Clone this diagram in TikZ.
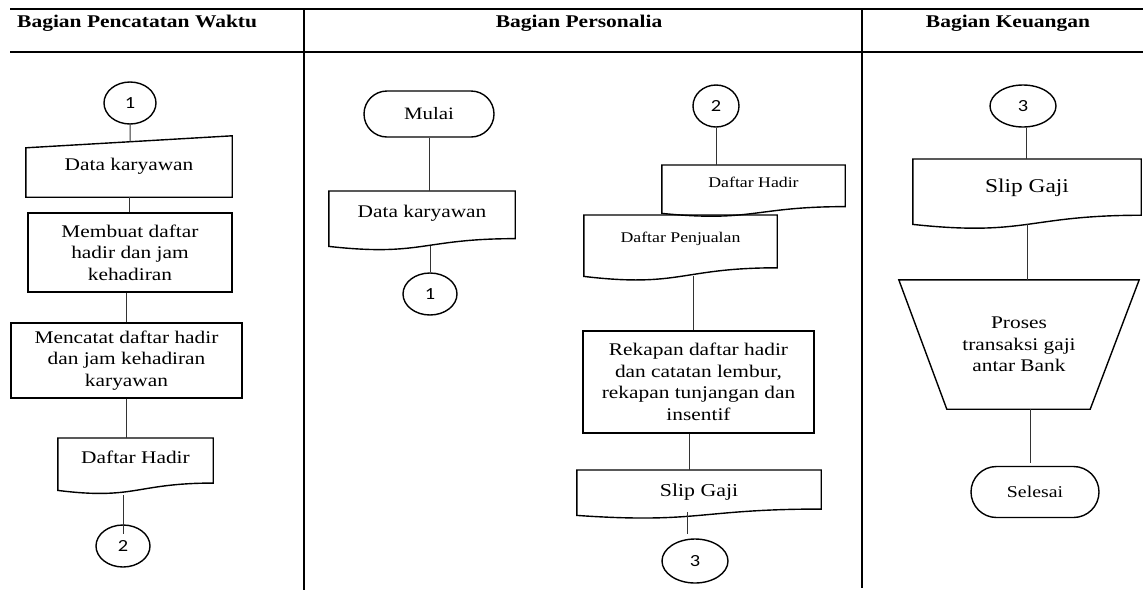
\documentclass[tikz,border=0pt]{standalone}
\usepackage{fontspec}
\setmainfont{Liberation Serif}[FakeStretch=1.2]
\newfontfamily\numfont{Carlito}[FakeStretch=1.2]
\usetikzlibrary{calc,shapes.geometric,shapes.misc}
\newcommand\mydocshape[1]{%
  \draw[shapeline] (#1.north west) -- (#1.north east) -- ($(#1.north east)!0.86!(#1.south east)$)
    .. controls ($(#1.north)!0.86!(#1.south)$) and ($(#1.north)!1.187!(#1.south)$) .. (#1.south west) -- cycle;}
\begin{document}
\begin{tikzpicture}[x=1pt,y=-1pt,
  shapeline/.style={draw=black,line width=1.4pt},
  conn/.style={draw=black!80,line width=1pt},
  tbl/.style={draw=black,line width=1.3pt},
  txt/.style={font=\fontsize{17.8}{21.5}\selectfont,align=center,inner sep=0pt},
  proc/.style={txt,shapeline,rectangle},
  docbox/.style={rectangle,inner sep=0pt,font=\fontsize{17.8}{21.5}\selectfont},
  smalldoc/.style={docbox,font=\fontsize{14.8}{18}\selectfont},
  conbox/.style={ellipse,shapeline,inner sep=0pt,font=\numfont\fontsize{17}{17}\selectfont},
  term/.style={rounded rectangle,shapeline,txt},
  hdr/.style={font=\bfseries\fontsize{17.9}{20}\selectfont,inner sep=0pt}
]
\useasboundingbox (0,0) rectangle (1143,590);

% table
\draw[tbl] (10,9) -- (1143,9);
\draw[tbl] (10,52) -- (1143,52);
\draw[tbl] (304,9) -- (304,590);
\draw[tbl] (862,9) -- (862,588);
\node[hdr,anchor=base west] (h1) at (17,27) {Bagian Pencatatan Waktu};
\node[hdr,anchor=base] (h2) at (579,27) {Bagian Personalia};
\node[hdr,anchor=base] (h3) at (1008,27) {Bagian Keuangan};

% ---- column 1
\node[conbox,minimum width=52pt,minimum height=42pt] (c1a) at (130,103) {1};
\node[docbox,minimum width=206pt,minimum height=61pt] (dk1) at (129,166.5) {Data karyawan};
\coordinate (dk1tl) at ($(dk1.north west)+(0,12)$);
\draw[shapeline] (dk1.south west) -- (dk1tl) -- (dk1.north east) -- (dk1.south east) -- cycle;
\node[proc,minimum width=204pt,minimum height=79pt] (p1) at (130,252.5) {Membuat daftar\\hadir dan jam\\kehadiran};
\node[proc,minimum width=231pt,minimum height=75pt] (p2) at (126.5,360.5) {Mencatat daftar hadir\\dan jam kehadiran\\karyawan};
\node[docbox,minimum width=155pt,text height=25pt,text depth=27pt,anchor=north] (dh1) at (135.5,438) {Daftar Hadir};
\mydocshape{dh1}
\node[conbox,minimum width=54pt,minimum height=42pt] (c2a) at (123,546) {2};

% ---- column 2
\node[term,minimum width=130pt,minimum height=46pt,font=\fontsize{17.4}{20}\selectfont] (mulai) at (429,114) {Mulai};
\node[docbox,minimum width=186pt,text height=26pt,text depth=29pt,anchor=north] (dk2) at (422,191) {Data karyawan};
\mydocshape{dk2}
\node[conbox,minimum width=54pt,minimum height=42pt] (c1b) at (430,294) {1};

\node[conbox,minimum width=46pt,minimum height=42pt] (c2b) at (716,106) {2};
\node[smalldoc,minimum width=183pt,text height=22pt,text depth=26pt,anchor=north] (dhP) at (753.5,165) {Daftar Hadir};
\mydocshape{dhP}
\node[smalldoc,minimum width=193pt,text height=27pt,text depth=34pt,anchor=north] (dpj) at (680.5,215) {Daftar Penjualan};
\mydocshape{dpj}
\node[proc,minimum width=231pt,minimum height=102pt] (rek) at (698.5,382) {Rekapan daftar hadir\\dan catatan lembur,\\rekapan tunjangan dan\\insentif};
\node[docbox,minimum width=244pt,text height=26pt,text depth=19pt,anchor=north,font=\fontsize{18.2}{20}\selectfont] (sgP) at (699,470) {Slip Gaji};
\mydocshape{sgP}
\node[conbox,minimum width=66pt,minimum height=44pt] (c3a) at (695,561) {3};

% ---- column 3
\node[conbox,minimum width=66pt,minimum height=42pt] (c3b) at (1023,106) {3};
\node[docbox,minimum width=228pt,text height=33.5pt,text depth=31.5pt,anchor=north,font=\fontsize{19.5}{22}\selectfont] (sgK) at (1027,159) {Slip Gaji};
\mydocshape{sgK}
\node[txt,minimum width=240pt,minimum height=129pt] (proses) at (1019,344.5) {Proses\\transaksi gaji\\antar Bank};
\draw[shapeline] (proses.north west) -- (proses.north east) -- ($(proses.south east)+(-49,0)$) -- ($(proses.south west)+(48,0)$) -- cycle;
\node[term,minimum width=128pt,minimum height=51pt,font=\fontsize{16.5}{19}\selectfont] (selesai) at (1035,492) {Selesai};

% ---- connectors
\draw[conn] (c1a.south) -- ($(dk1tl)!0.505!(dk1.north east)$);
\draw[conn] (dk1.south) -- (dk1.south |- p1.north);
\draw[conn] (p2.north |- p1.south) -- (p2.north);
\draw[conn] (p2.south) -- (p2.south |- dh1.north);
\draw[conn] ($(c2a.north |- dh1.south)+(0,5)$) -- ($(c2a.north)+(0,10)$);

\draw[conn] (mulai.south) -- (mulai.south |- dk2.north);
\draw[conn] (c1b.north |- dk2.south) -- (c1b.north);
\draw[conn] (c2b.south) -- (c2b.south |- dhP.north);
\draw[conn] ($(rek.north |- dpj.south)+(-5.5,0)$) -- ($(rek.north)+(-5.5,0)$);
\draw[conn] ($(rek.south)+(-9.5,0)$) -- ($(rek.south |- sgP.north)+(-9.5,0)$);
\draw[conn] ($(c3a.north |- sgP.south)+(-8,-3)$) -- ($(c3a.north)+(-8,-4)$);

\draw[conn] ($(c3b.south)+(3,0)$) -- ($(c3b.south |- sgK.north)+(3,0)$);
\draw[conn] (sgK.south) -- (sgK.south |- proses.north);
\draw[conn] ($(selesai.north |- proses.south)+(-5,0)$) -- ($(selesai.north)+(-5,-3)$);
\end{tikzpicture}
\end{document}
